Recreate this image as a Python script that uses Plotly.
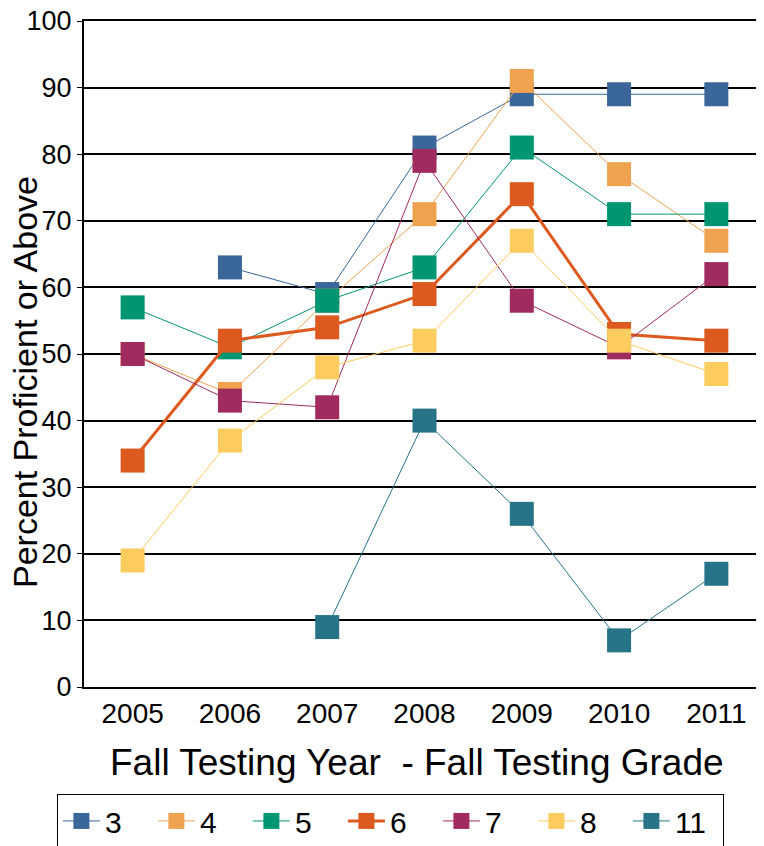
import plotly.graph_objects as go

years = ["2005", "2006", "2007", "2008", "2009", "2010", "2011"]

grade_3 = [None, 63, 59, 81, 89, 89, 89]
grade_4 = [50, 44, 58, 71, 91, 77, 67]
grade_5 = [57, 51, 58, 63, 81, 71, 71]
grade_6 = [34, 52, 54, 59, 74, 53, 52]
grade_7 = [50, 43, 42, 79, 58, 51, 62]
grade_8 = [19, 37, 48, 52, 67, 52, 47]
grade_11 = [None, None, 9, 40, 26, 7, 17]

series = [
    ("3", grade_3, "#3A6699", 1),
    ("4", grade_4, "#EFA351", 1),
    ("5", grade_5, "#009672", 1),
    ("6", grade_6, "#DC5A1F", 3),
    ("7", grade_7, "#A02B5F", 1),
    ("8", grade_8, "#FDCC5E", 1),
    ("11", grade_11, "#277489", 1),
]

FONT = "Liberation Sans, Arial, sans-serif"

fig = go.Figure()
for name, vals, color, lw in series:
    fig.add_trace(go.Scatter(
        x=years, y=vals, name=name, mode="lines+markers",
        line=dict(color=color, width=lw),
        marker=dict(symbol="square", size=24, color=color),
        connectgaps=False,
    ))

fig.update_xaxes(
    type="category", range=[-0.5, 6.5], automargin=False,
    showline=True, linecolor="black", linewidth=2, mirror=True,
    showgrid=False, ticks="",
    tickfont=dict(size=28, color="black"),
)
fig.update_yaxes(
    range=[0, 100], dtick=10, automargin=False,
    showline=True, linecolor="black", linewidth=2, mirror=True,
    showgrid=True, gridcolor="black", gridwidth=1.5,
    ticks="outside", ticklen=5, tickcolor="black",
    tickfont=dict(size=27, color="black"),
    ticklabeloverflow="allow",
    zeroline=False,
)

# axis titles as annotations, so they can be nudged to where the original has them
fig.add_annotation(
    text="Percent Proficient or Above", textangle=-90,
    xref="paper", yref="paper", x=0, y=0.5, xanchor="center", yanchor="middle",
    xshift=-59, yshift=-28, showarrow=False,
    font=dict(size=34, color="black"),
)
fig.add_annotation(
    text="Fall Testing Year  - Fall Testing Grade",
    xref="paper", yref="paper", x=0.5, y=0, xanchor="center", yanchor="middle",
    xshift=-8, yshift=-75, showarrow=False,
    font=dict(size=37, color="black"),
)

fig.update_layout(
    width=764, height=846,
    margin=dict(l=76, r=7, t=13, b=167),
    paper_bgcolor="white", plot_bgcolor="white",
    font=dict(family=FONT, color="black"),
    showlegend=True,
    legend=dict(
        orientation="h", xref="container", yref="container",
        x=0.064, y=0.071, xanchor="left", yanchor="top",
        bordercolor="black", borderwidth=1,
        font=dict(size=30, color="black"),
        entrywidth=43, entrywidthmode="pixels",
        itemwidth=37,
    ),
)

fig.write_html("out.html")
